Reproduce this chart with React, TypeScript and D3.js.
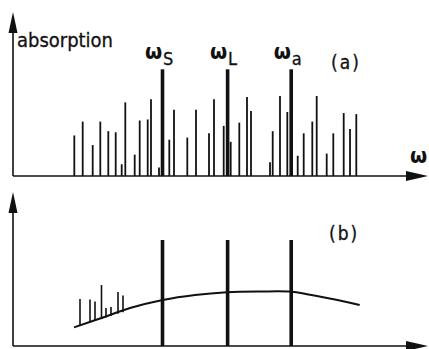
import React from 'react';
import * as d3 from 'd3';

// frequency positions (arbitrary units along ω) and absorption heights (% of pump line)
const linePos = [
  61.3, 69.7, 79.7, 87.3, 95.3, 102.7, 108.7, 112.3, 121.7, 126.7, 134.7, 138, 146,
  156.3, 161, 174.3, 183, 196, 201, 210.7, 217.7, 226.3, 234, 238, 257, 259.7, 267,
  274.3, 284.7, 290.7, 299.3, 303.7, 313.7, 320.3, 330.7, 337, 343.3,
];
const lineHeight = [
  38, 51, 29, 51, 42, 41, 11, 69, 20, 52, 53, 72, 8,
  34, 62, 36, 62, 40, 72, 47, 32, 50, 74, 61, 13, 42, 75,
  60, 19, 40, 51, 75, 21, 40, 59, 44, 58,
];

// the three strong lines: Stokes, laser, anti-Stokes
const strongLabels = ['S', 'L', 'a'];
const strongPos = [149.5, 214.6, 278.2];
const strongHeightA = [100, 100, 100];
const strongHeightB = [100, 100, 100];

// panel (b): broad background curve
const curveX = [61, 87, 117, 149.7, 182, 214, 247, 278.7, 294, 322, 346.7];
const curveY = [17.6, 25.9, 35.8, 43.4, 48.1, 50.7, 51.4, 51.2, 48.8, 43.9, 38.7];

// panel (b): residual narrow lines sitting on the curve
const residPos = [67, 77, 82, 88.5, 93, 98, 105, 110];
const residBase = [19.3, 22.3, 23.8, 25.7, 27, 28.4, 30.4, 31.9];
const residTop = [44.3, 43.9, 42, 57.5, 35.8, 36.8, 50.9, 47.6];

const W = 429;
const H = 349;
const INK = '#111';
const FONT = '"DejaVu Sans Condensed", "DejaVu Sans", sans-serif';

export default function App() {
  const x = d3.scaleLinear().domain([0, 415]).range([13, 428]);
  const yA = d3.scaleLinear().domain([0, 100]).range([176, 69.3]);
  const yB = d3.scaleLinear().domain([0, 100]).range([346, 240]);

  const curvePts = curveX.map((v, i) => [v, curveY[i]] as [number, number]);
  const curvePath = d3
    .line<[number, number]>()
    .x(d => x(d[0]))
    .y(d => yB(d[1]))
    .curve(d3.curveCatmullRom.alpha(0.5))(curvePts);

  const axisX0 = x(0);
  const axisX1 = x(415);

  const axes = (base: number, top: number) => (
    <g>
      <line x1={axisX0} y1={base} x2={axisX0} y2={top + 18} stroke={INK} strokeWidth={1.6} />
      <path d={`M${axisX0},${top} L${axisX0 - 4.5},${top + 21} L${axisX0 + 4.5},${top + 21} Z`} fill={INK} />
      <line x1={axisX0} y1={base} x2={axisX1 - 18} y2={base} stroke={INK} strokeWidth={1.6} />
      <path d={`M${axisX1},${base} L${axisX1 - 22},${base - 5} L${axisX1 - 22},${base + 5} Z`} fill={INK} />
    </g>
  );

  return (
    <svg width={W} height={H} style={{ position: 'absolute', left: 0, top: 0, background: '#fff' }}>
      {/* panel (a) */}
      {axes(176, 12)}
      {linePos.map((p, i) => (
        <line key={'a' + i} x1={x(p)} x2={x(p)} y1={yA(0)} y2={yA(lineHeight[i])} stroke={INK} strokeWidth={1.8} />
      ))}
      {strongPos.map((p, i) => (
        <line key={'sa' + i} x1={x(p)} x2={x(p)} y1={yA(0)} y2={yA(strongHeightA[i])} stroke={INK} strokeWidth={3.6} />
      ))}
      <text x={17} y={46.5} fontFamily={FONT} fontSize={20} fill={INK} stroke={INK} strokeWidth={0.3} textLength={96} lengthAdjust="spacingAndGlyphs">
        absorption
      </text>
      {strongPos.map((p, i) => (
        <g key={'lab' + i}>
          <text x={x(p) - 17.5} y={58.5} fontFamily={FONT} fontSize={22} fontWeight="bold" fill={INK}>
            ω
          </text>
          <text x={x(p) + 0.5} y={65} fontFamily={FONT} fontSize={18} fill={INK} stroke={INK} strokeWidth={0.3}>
            {strongLabels[i]}
          </text>
        </g>
      ))}
      <text x={331} y={69} fontFamily={FONT} fontSize={19} fill={INK} stroke={INK} strokeWidth={0.3} letterSpacing={2}>
        (a)
      </text>
      <text x={410} y={163} fontFamily={FONT} fontSize={22} fontWeight="bold" fill={INK}>
        ω
      </text>

      {/* panel (b) */}
      {axes(346, 192)}
      {residPos.map((p, i) => (
        <line key={'r' + i} x1={x(p)} x2={x(p)} y1={yB(residBase[i])} y2={yB(residTop[i])} stroke={INK} strokeWidth={1.6} />
      ))}
      <path d={curvePath ?? ''} fill="none" stroke={INK} strokeWidth={2} />
      {strongPos.map((p, i) => (
        <line key={'sb' + i} x1={x(p)} x2={x(p)} y1={yB(0)} y2={yB(strongHeightB[i])} stroke={INK} strokeWidth={3.6} />
      ))}
      <text x={329} y={239.5} fontFamily={FONT} fontSize={19} fill={INK} stroke={INK} strokeWidth={0.3} letterSpacing={2}>
        (b)
      </text>
    </svg>
  );
}
